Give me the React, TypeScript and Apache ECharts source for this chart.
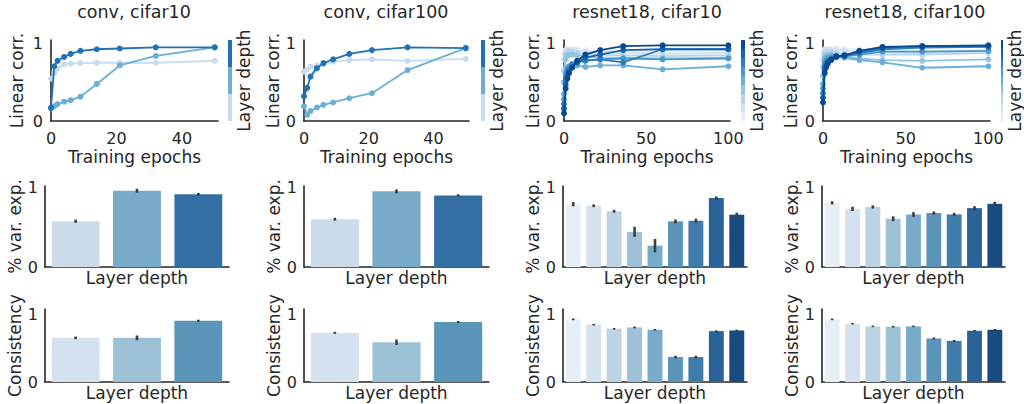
import React, { useEffect, useRef } from "react";
import * as echarts from "echarts";

// ---------------- data ----------------
const panelTitles = ["conv, cifar10", "conv, cifar100", "resnet18, cifar10", "resnet18, cifar100"];

const convEpochs = [0, 1, 2, 4, 6, 9, 14, 21, 32, 50];
const resnetEpochs = [0, 1, 2, 3, 5, 8, 13, 22, 36, 60, 100];

// linear correlation per layer (shallow -> deep)
const conv10Corr = [
  [0.55, 0.62, 0.68, 0.735, 0.745, 0.75, 0.755, 0.755, 0.755, 0.78],
  [0.165, 0.19, 0.22, 0.25, 0.27, 0.315, 0.48, 0.72, 0.845, 0.955],
  [0.17, 0.71, 0.78, 0.83, 0.87, 0.91, 0.93, 0.94, 0.955, 0.955],
];
const conv100Corr = [
  [0.64, 0.67, 0.705, 0.72, 0.735, 0.77, 0.79, 0.8, 0.78, 0.805],
  [0.19, 0.08, 0.13, 0.175, 0.21, 0.24, 0.295, 0.36, 0.66, 0.945],
  [0.32, 0.43, 0.575, 0.685, 0.75, 0.8, 0.87, 0.92, 0.955, 0.945],
];
const res10Corr = [
  [0.88, 0.92, 0.93, 0.93, 0.93, 0.93, 0.92, 0.91, 0.9, 0.89, 0.89],
  [0.8, 0.9, 0.92, 0.92, 0.92, 0.91, 0.9, 0.89, 0.88, 0.87, 0.88],
  [0.65, 0.86, 0.89, 0.9, 0.89, 0.88, 0.87, 0.86, 0.85, 0.84, 0.85],
  [0.5, 0.8, 0.85, 0.86, 0.86, 0.85, 0.84, 0.82, 0.82, 0.81, 0.82],
  [0.35, 0.62, 0.68, 0.71, 0.72, 0.72, 0.7, 0.72, 0.72, 0.67, 0.71],
  [0.28, 0.58, 0.66, 0.7, 0.74, 0.77, 0.79, 0.8, 0.81, 0.8, 0.81],
  [0.22, 0.52, 0.62, 0.67, 0.72, 0.76, 0.78, 0.8, 0.76, 0.93, 0.93],
  [0.16, 0.47, 0.58, 0.64, 0.7, 0.76, 0.82, 0.86, 0.92, 0.93, 0.93],
  [0.1, 0.42, 0.55, 0.62, 0.69, 0.78, 0.86, 0.92, 0.97, 0.98, 0.98],
];
const res100Corr = [
  [0.88, 0.93, 0.94, 0.94, 0.94, 0.94, 0.94, 0.93, 0.92, 0.91, 0.92],
  [0.8, 0.91, 0.92, 0.92, 0.92, 0.92, 0.91, 0.9, 0.89, 0.88, 0.9],
  [0.7, 0.88, 0.89, 0.89, 0.89, 0.88, 0.87, 0.86, 0.86, 0.86, 0.88],
  [0.58, 0.83, 0.85, 0.86, 0.86, 0.85, 0.84, 0.81, 0.79, 0.78, 0.8],
  [0.48, 0.78, 0.82, 0.83, 0.84, 0.83, 0.82, 0.79, 0.76, 0.69, 0.71],
  [0.42, 0.74, 0.78, 0.8, 0.82, 0.83, 0.84, 0.86, 0.9, 0.9, 0.91],
  [0.36, 0.7, 0.75, 0.78, 0.8, 0.83, 0.84, 0.88, 0.93, 0.95, 0.96],
  [0.3, 0.66, 0.72, 0.76, 0.79, 0.83, 0.85, 0.9, 0.95, 0.97, 0.97],
  [0.24, 0.62, 0.7, 0.75, 0.8, 0.84, 0.85, 0.91, 0.96, 0.97, 0.98],
];

// % variance explained (mean, error half-width)
const conv10VarExp = [0.58, 0.965, 0.92];
const conv10VarErr = [0.02, 0.025, 0.018];
const conv100VarExp = [0.605, 0.957, 0.905];
const conv100VarErr = [0.018, 0.025, 0.015];
const res10VarExp = [0.795, 0.775, 0.705, 0.445, 0.27, 0.578, 0.585, 0.872, 0.662];
const res10VarErr = [0.027, 0.017, 0.017, 0.063, 0.085, 0.025, 0.027, 0.02, 0.025];
const res100VarExp = [0.812, 0.735, 0.76, 0.61, 0.665, 0.683, 0.665, 0.745, 0.8];
const res100VarErr = [0.02, 0.027, 0.02, 0.03, 0.03, 0.02, 0.02, 0.025, 0.025];

// consistency
const conv10Cons = [0.655, 0.655, 0.91];
const conv10ConsErr = [0.02, 0.035, 0.015];
const conv100Cons = [0.73, 0.59, 0.89];
const conv100ConsErr = [0.015, 0.04, 0.015];
const res10Cons = [0.93, 0.85, 0.79, 0.81, 0.775, 0.37, 0.37, 0.755, 0.765];
const res10ConsErr = [0.012, 0.012, 0.012, 0.012, 0.012, 0.02, 0.02, 0.012, 0.012];
const res100Cons = [0.93, 0.865, 0.825, 0.82, 0.825, 0.645, 0.61, 0.76, 0.775];
const res100ConsErr = [0.012, 0.012, 0.012, 0.012, 0.012, 0.015, 0.015, 0.012, 0.012];

const yTicks = [0, 1];

// colour levels of the Blues colormap
const convLineLevels = [0.25, 0.5, 0.75];
const convConsLevels = [0.2, 0.4, 0.6];
const resnetLevels = [0.1, 0.2, 0.3, 0.4, 0.5, 0.6, 0.7, 0.8, 0.9];

// ---------------- styles / layout ----------------
const INK = "#262626";
const FONT = "DejaVu Sans";
const BLUES = ["#f7fbff", "#deebf7", "#c6dbef", "#9ecae1", "#6baed6", "#4292c6", "#2171b5", "#08519c", "#08306b"];

function hexToRgb(h: string) {
  const n = parseInt(h.slice(1), 16);
  return [(n >> 16) & 255, (n >> 8) & 255, n & 255];
}
function rgbToHex(r: number, g: number, b: number) {
  return "#" + [r, g, b].map((v) => Math.round(Math.max(0, Math.min(255, v))).toString(16).padStart(2, "0")).join("");
}
function blues(t: number) {
  const s = t * 8;
  const i = Math.min(7, Math.floor(s));
  const f = s - i;
  const a = hexToRgb(BLUES[i]);
  const b = hexToRgb(BLUES[i + 1]);
  return rgbToHex(a[0] + (b[0] - a[0]) * f, a[1] + (b[1] - a[1]) * f, a[2] + (b[2] - a[2]) * f);
}
function desaturate(hex: string, p: number) {
  const [r, g, b] = hexToRgb(hex).map((v) => v / 255);
  const mx = Math.max(r, g, b), mn = Math.min(r, g, b);
  const l = (mx + mn) / 2;
  if (mx === mn) return hex;
  const d = mx - mn;
  const s = l <= 0.5 ? d / (mx + mn) : d / (2 - mx - mn);
  let h: number;
  if (mx === r) h = ((g - b) / d) % 6;
  else if (mx === g) h = (b - r) / d + 2;
  else h = (r - g) / d + 4;
  h /= 6;
  if (h < 0) h += 1;
  const s2 = s * p;
  const q = l < 0.5 ? l * (1 + s2) : l + s2 - l * s2;
  const pp = 2 * l - q;
  const hue = (t: number) => {
    if (t < 0) t += 1;
    if (t > 1) t -= 1;
    if (t < 1 / 6) return pp + (q - pp) * 6 * t;
    if (t < 1 / 2) return q;
    if (t < 2 / 3) return pp + (q - pp) * (2 / 3 - t) * 6;
    return pp;
  };
  return rgbToHex(hue(h + 1 / 3) * 255, hue(h) * 255, hue(h - 1 / 3) * 255);
}

const row1Layout = [
  { left: 51, width: 167, cb: 228, xMax: 51, interval: 20 },
  { left: 304, width: 165, cb: 481, xMax: 51, interval: 20 },
  { left: 564, width: 166, cb: 741, xMax: 101, interval: 50 },
  { left: 823, width: 167, cb: 1001, xMax: 101, interval: 50 },
];
const barLayout = [
  { left: 45, width: 184 },
  { left: 304, width: 185 },
  { left: 563, width: 184 },
  { left: 822, width: 183 },
];

export default function App() {
  const ref = useRef<HTMLDivElement>(null);

  useEffect(() => {
    if (!ref.current) return;
    const chart = echarts.init(ref.current, null, { renderer: "svg" });

    const grids: any[] = [];
    const xAxes: any[] = [];
    const yAxes: any[] = [];
    const series: any[] = [];

    const axisLine = { show: true, lineStyle: { color: INK, width: 1.6 } };
    const tickFmt = (v: number) => (yTicks.indexOf(v) >= 0 ? String(v) : "");

    const corrData = [conv10Corr, conv100Corr, res10Corr, res100Corr];
    const epochsData = [convEpochs, convEpochs, resnetEpochs, resnetEpochs];
    const varData = [conv10VarExp, conv100VarExp, res10VarExp, res100VarExp];
    const varErr = [conv10VarErr, conv100VarErr, res10VarErr, res100VarErr];
    const consData = [conv10Cons, conv100Cons, res10Cons, res100Cons];
    const consErr = [conv10ConsErr, conv100ConsErr, res10ConsErr, res100ConsErr];

    const addBars = (
      c: number,
      top: number,
      height: number,
      yMax: number,
      name: string,
      vals: number[],
      errs: number[],
      levels: number[],
      nameGap: number
    ) => {
      const gi = grids.length;
      const L = barLayout[c];
      grids.push({ left: L.left, top, width: L.width, height });
      xAxes.push({
        gridIndex: gi,
        type: "category",
        data: vals.map((_, i) => String(i + 1)),
        axisLine,
        axisTick: { show: false },
        axisLabel: { show: false },
        splitLine: { show: false },
        name: "Layer depth",
        nameLocation: "middle",
        nameGap: 2,
        nameTextStyle: { color: INK, fontSize: 17, fontFamily: FONT },
      });
      yAxes.push({
        gridIndex: gi,
        type: "value",
        min: 0,
        max: yMax,
        interval: 1,
        axisLine,
        axisTick: { show: false },
        splitLine: { show: false },
        axisLabel: { color: INK, fontSize: 16, fontFamily: FONT, margin: 7, formatter: tickFmt },
        name,
        nameLocation: "middle",
        nameGap,
        nameTextStyle: { color: INK, fontSize: 17, fontFamily: FONT },
      });
      const colors = levels.map((t) => desaturate(blues(t), 0.75));
      series.push({
        type: "bar",
        xAxisIndex: gi,
        yAxisIndex: gi,
        barCategoryGap: vals.length > 3 ? "27%" : "22%",
        data: vals.map((v, i) => ({ value: v, itemStyle: { color: colors[i] } })),
        silent: true,
      });
      series.push({
        type: "custom",
        xAxisIndex: gi,
        yAxisIndex: gi,
        silent: true,
        z: 5,
        encode: { x: 0, y: [1, 2] },
        data: vals.map((v, i) => [i, v - errs[i], v + errs[i]]),
        renderItem: (_p: any, api: any) => {
          const a = api.coord([api.value(0), api.value(1)]);
          const b = api.coord([api.value(0), api.value(2)]);
          return {
            type: "line",
            shape: { x1: a[0], y1: a[1], x2: b[0], y2: b[1] },
            style: { stroke: "#3d3d3d", lineWidth: 2.6 },
          };
        },
      });
    };

    for (let c = 0; c < 4; c++) {
      const isConv = c < 2;
      const lineLevels = isConv ? convLineLevels : resnetLevels;
      const lineColors = lineLevels.map(blues);
      const L = row1Layout[c];

      // ---- row 1: linear correlation vs epochs ----
      const gi = grids.length;
      grids.push({ left: L.left, top: 40, width: L.width, height: 81 });
      xAxes.push({
        gridIndex: gi,
        type: "value",
        min: 0,
        max: L.xMax,
        interval: L.interval,
        axisLine,
        axisTick: { show: false },
        splitLine: { show: false },
        axisLabel: {
          color: INK,
          fontSize: 16,
          fontFamily: FONT,
          margin: 9,
          formatter: (v: number) => (v % L.interval === 0 ? String(v) : ""),
        },
        name: "Training epochs",
        nameLocation: "middle",
        nameGap: 27,
        nameTextStyle: { color: INK, fontSize: 17, fontFamily: FONT },
      });
      yAxes.push({
        gridIndex: gi,
        type: "value",
        min: 0,
        max: 1.05,
        interval: 1,
        axisLine,
        axisTick: { show: false },
        splitLine: { show: false },
        axisLabel: { color: INK, fontSize: 16, fontFamily: FONT, margin: 8, formatter: tickFmt },
        name: "Linear corr.",
        nameLocation: "middle",
        nameGap: [26, 23, 23, 24][c],
        nameTextStyle: { color: INK, fontSize: 17, fontFamily: FONT },
      });
      const epochs = epochsData[c];
      corrData[c].forEach((layer, li) => {
        series.push({
          type: "line",
          xAxisIndex: gi,
          yAxisIndex: gi,
          data: epochs.map((e, i) => [e, layer[i]]),
          symbol: "circle",
          symbolSize: 6,
          showSymbol: true,
          lineStyle: { color: lineColors[li], width: 1.8 },
          itemStyle: { color: lineColors[li] },
          z: 2 + li,
          silent: true,
        });
      });

      // ---- colour bar ----
      const ci = grids.length;
      grids.push({ left: L.cb, top: 40, width: 4, height: 81 });
      xAxes.push({ gridIndex: ci, type: "value", min: 0, max: 1, show: false });
      yAxes.push({
        gridIndex: ci,
        type: "category",
        data: lineLevels.map(String),
        position: "right",
        axisLine: { show: false },
        axisTick: { show: false },
        axisLabel: { show: false },
        splitLine: { show: false },
        name: "Layer depth",
        nameLocation: "middle",
        nameRotate: 90,
        nameGap: 3,
        nameTextStyle: { color: INK, fontSize: 17, fontFamily: FONT },
      });
      series.push({
        type: "bar",
        xAxisIndex: ci,
        yAxisIndex: ci,
        barCategoryGap: "0%",
        silent: true,
        data: lineColors.map((col) => ({ value: 1, itemStyle: { color: col } })),
      });

      // ---- row 2: % variance explained ----
      addBars(c, 186, 81, 1.025, "% var. exp.", varData[c], varErr[c], isConv ? convLineLevels : resnetLevels, 22);
      // ---- row 3: consistency ----
      addBars(c, 309, 73, 1.083, "Consistency", consData[c], consErr[c], isConv ? convConsLevels : resnetLevels, 21);
    }

    const titleCenters = [134, 386, 647, 905];
    chart.setOption({
      animation: false,
      backgroundColor: "#ffffff",
      textStyle: { fontFamily: FONT },
      title: panelTitles.map((t, i) => ({
        text: t,
        left: titleCenters[i],
        top: 3,
        textAlign: "center",
        padding: 0,
        textStyle: { color: INK, fontSize: 17.5, fontWeight: "normal", fontFamily: FONT },
      })),
      grid: grids,
      xAxis: xAxes,
      yAxis: yAxes,
      series,
    });

    return () => chart.dispose();
  }, []);

  return <div ref={ref} style={{ position: "absolute", left: 0, top: 0, width: 1024, height: 404 }} />;
}
